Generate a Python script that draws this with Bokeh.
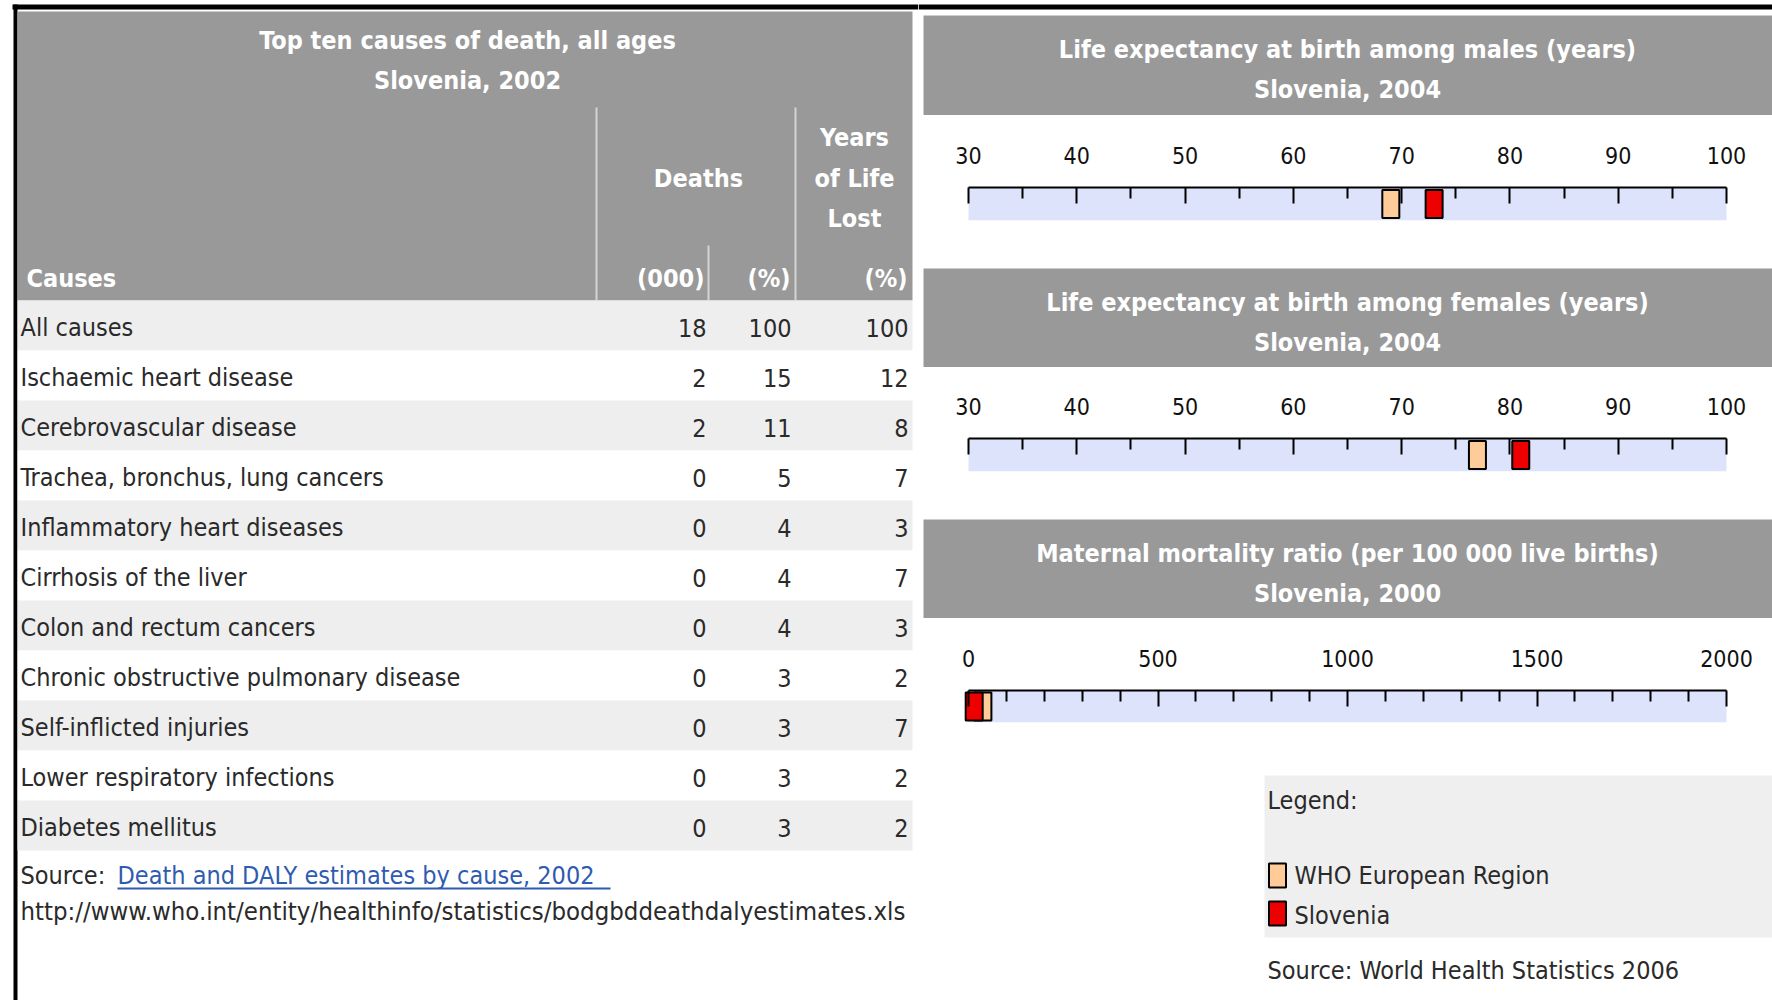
from bokeh.plotting import figure
from bokeh.layouts import row, column
from bokeh.models import Range1d, LinearAxis, FixedTicker
from bokeh.core.properties import value
from bokeh.embed import file_html
from bokeh.resources import INLINE

FONT = "DejaVu Sans Condensed, Liberation Sans, sans-serif"

# ---------------- data ----------------
table_title = ["Top ten causes of death, all ages", "Slovenia, 2002"]
causes = ["All causes", "Ischaemic heart disease", "Cerebrovascular disease",
          "Trachea, bronchus, lung cancers", "Inflammatory heart diseases",
          "Cirrhosis of the liver", "Colon and rectum cancers",
          "Chronic obstructive pulmonary disease", "Self-inflicted injuries",
          "Lower respiratory infections", "Diabetes mellitus"]
deaths_000 = [18, 2, 2, 0, 0, 0, 0, 0, 0, 0, 0]
deaths_pct = [100, 15, 11, 5, 4, 4, 4, 3, 3, 3, 3]
yll_pct = [100, 12, 8, 7, 3, 7, 3, 2, 7, 2, 2]

series_names = ["WHO European Region", "Slovenia"]
male_le = [69, 73]
female_le = [77, 81]
mmr = [38, 15]

male_title = ["Life expectancy at birth among males (years)", "Slovenia, 2004"]
female_title = ["Life expectancy at birth among females (years)", "Slovenia, 2004"]
mmr_title = ["Maternal mortality ratio (per 100 000 live births)", "Slovenia, 2000"]

le_range = [30, 100]
le_major = [30, 40, 50, 60, 70, 80, 90, 100]
le_minor = [35, 45, 55, 65, 75, 85, 95]
mmr_range = [0, 2000]
mmr_major = [0, 500, 1000, 1500, 2000]
mmr_minor = [100, 200, 300, 400, 600, 700, 800, 900, 1100, 1200, 1300, 1400,
             1600, 1700, 1800, 1900]

source_left = "Source: "
source_link = "Death and DALY estimates by cause, 2002 "
source_url = "http://www.who.int/entity/healthinfo/statistics/bodgbddeathdalyestimates.xls"
source_right = "Source: World Health Statistics 2006"

# ---------------- style ----------------
HDR_GRAY = "#999999"
ROW_GRAY = "#eeeeee"
TXT = "#2a2a2a"
BLUE_BAR = "#dce3fa"
PEACH = "#ffcc99"
RED = "#ee0000"
LINK = "#2f5bb0"
series_colors = [PEACH, RED]
BODY = "25px"
HEAD = "25px"
TICK = "23px"
SHIFT = 10   # visual baseline correction


def pix_fig(x0, x1, y0, y1):
    p = figure(width=x1 - x0, height=y1 - y0,
               x_range=Range1d(x0, x1), y_range=Range1d(y1, y0),
               output_backend="svg", toolbar_location=None,
               x_axis_location=None, y_axis_location=None,
               min_border=0, outline_line_color=None,
               background_fill_color="white", border_fill_color="white")
    p.grid.visible = False
    p.title.visible = False
    return p


def txt(p, x, y, t, size, color=TXT, align="left", bold=False):
    p.text(x=x, y=[v - SHIFT for v in y], text=t, text_font=value(FONT),
           text_font_size=size, text_color=color, text_align=align,
           text_baseline="alphabetic",
           text_font_style="bold" if bold else "normal")


# ---------------- left table ----------------
L = pix_fig(0, 918, 0, 1000)
L.quad(left=[12], right=[918], top=[4], bottom=[9], fill_color="black", line_color=None)
L.quad(left=[13], right=[17], top=[4], bottom=[1000], fill_color="black", line_color=None)
# header
L.quad(left=[17], right=[912], top=[11], bottom=[300], fill_color=HDR_GRAY, line_color=None)
L.segment(x0=[596, 795, 708], y0=[107, 107, 245], x1=[596, 795, 708], y1=[300, 300, 300],
          line_color="#d4d4d4", line_width=2)
txt(L, [467, 467], [50, 90], table_title, HEAD, "white", "center", True)
txt(L, [698], [188], ["Deaths"], HEAD, "white", "center", True)
txt(L, [854, 854, 854], [147, 188, 228], ["Years", "of Life", "Lost"], HEAD, "white", "center", True)
txt(L, [26], [288], ["Causes"], HEAD, "white", "left", True)
txt(L, [704, 790, 907], [288, 288, 288], ["(000)", "(%)", "(%)"], HEAD, "white", "right", True)

# rows
ROW_TOP = 300
ROW_H = 50
n = len(causes)
tops = [ROW_TOP + i * ROW_H for i in range(n)]
bots = [t + ROW_H for t in tops]
fills = [ROW_GRAY if i % 2 == 0 else "white" for i in range(n)]
L.quad(left=17, right=912, top=tops, bottom=bots, fill_color=fills, line_color=None)
base = [t + 37 for t in tops]
txt(L, [20] * n, base, causes, BODY)
txt(L, [706] * n, base, [str(v) for v in deaths_000], BODY, align="right")
txt(L, [791] * n, base, [str(v) for v in deaths_pct], BODY, align="right")
txt(L, [908] * n, base, [str(v) for v in yll_pct], BODY, align="right")

# source
txt(L, [20], [885], [source_left], BODY)
txt(L, [117], [885], [source_link], BODY, LINK)
L.segment(x0=[117], y0=[888], x1=[610], y1=[888], line_color=LINK, line_width=2)
txt(L, [20], [920], [source_url], "25.5px")


# ---------------- right panels ----------------
RX0, RX1 = 918, 1772
AXL, AXR = 968, 1726   # pixel positions of the axis ends


def header_fig(y0, y1, gray_top, title, top_bar=False):
    p = pix_fig(RX0, RX1, y0, y1)
    if top_bar:
        p.quad(left=[RX0], right=[RX1], top=[4], bottom=[9], fill_color="black", line_color=None)
    p.quad(left=[923], right=[RX1], top=[gray_top], bottom=[y1], fill_color=HDR_GRAY, line_color=None)
    txt(p, [1347, 1347], [gray_top + 44, gray_top + 84], title, HEAD, "white", "center", True)
    return p


def axis_fig(y0, y1, frame_top, frame_bottom, rng, major, minor, vals):
    lo, hi = rng
    scale = (AXR - AXL) / (hi - lo)
    xr = Range1d(lo - (AXL - RX0) / scale, hi + (RX1 - AXR) / scale)
    p = figure(width=RX1 - RX0, height=y1 - y0, x_range=xr, y_range=Range1d(0, 1),
               output_backend="svg", toolbar_location=None,
               x_axis_location=None, y_axis_location=None,
               min_border_left=0, min_border_right=0,
               min_border_top=frame_top - y0, min_border_bottom=y1 - frame_bottom,
               outline_line_color=None, background_fill_color="white",
               border_fill_color="white")
    p.grid.visible = False
    p.title.visible = False
    p.quad(left=[lo], right=[hi], bottom=[0], top=[1], fill_color=BLUE_BAR, line_color=None)
    ax = LinearAxis(ticker=FixedTicker(ticks=major, minor_ticks=minor), bounds=(lo, hi),
                    axis_line_color="black", axis_line_width=2,
                    major_tick_in=16, major_tick_out=0, major_tick_line_width=2,
                    minor_tick_in=11, minor_tick_out=0, minor_tick_line_width=2,
                    major_label_text_font=FONT, major_label_text_font_size=TICK,
                    major_label_text_color="#111111", major_label_standoff=24)
    p.add_layout(ax, "above")
    p.rect(x=vals, y=[0.5] * len(vals), width=17, height=28,
           width_units="screen", height_units="screen",
           fill_color=series_colors, line_color="black", line_width=2)
    return p


H1 = header_fig(0, 115, 15, male_title, top_bar=True)
A1 = axis_fig(115, 258, 187, 220, le_range, le_major, le_minor, male_le)
H2 = header_fig(258, 367, 268, female_title)
A2 = axis_fig(367, 490, 438, 471, le_range, le_major, le_minor, female_le)
H3 = header_fig(490, 618, 519, mmr_title)
A3 = axis_fig(618, 760, 690, 722, mmr_range, mmr_major, mmr_minor, mmr)

# legend
LG = pix_fig(RX0, RX1, 760, 1000)
LG.quad(left=[1264], right=[RX1], top=[775], bottom=[937], fill_color="#efefef", line_color=None)
txt(LG, [1267], [810], ["Legend:"], BODY)
LG.rect(x=[1277, 1277], y=[875, 913], width=17, height=24,
        fill_color=series_colors, line_color="black", line_width=2)
txt(LG, [1294, 1294], [885, 925], series_names, BODY)
txt(LG, [1267], [980], [source_right], BODY)

layout = row(L, column(H1, A1, H2, A2, H3, A3, LG))

open("out.html", "w").write(file_html(layout, INLINE))
